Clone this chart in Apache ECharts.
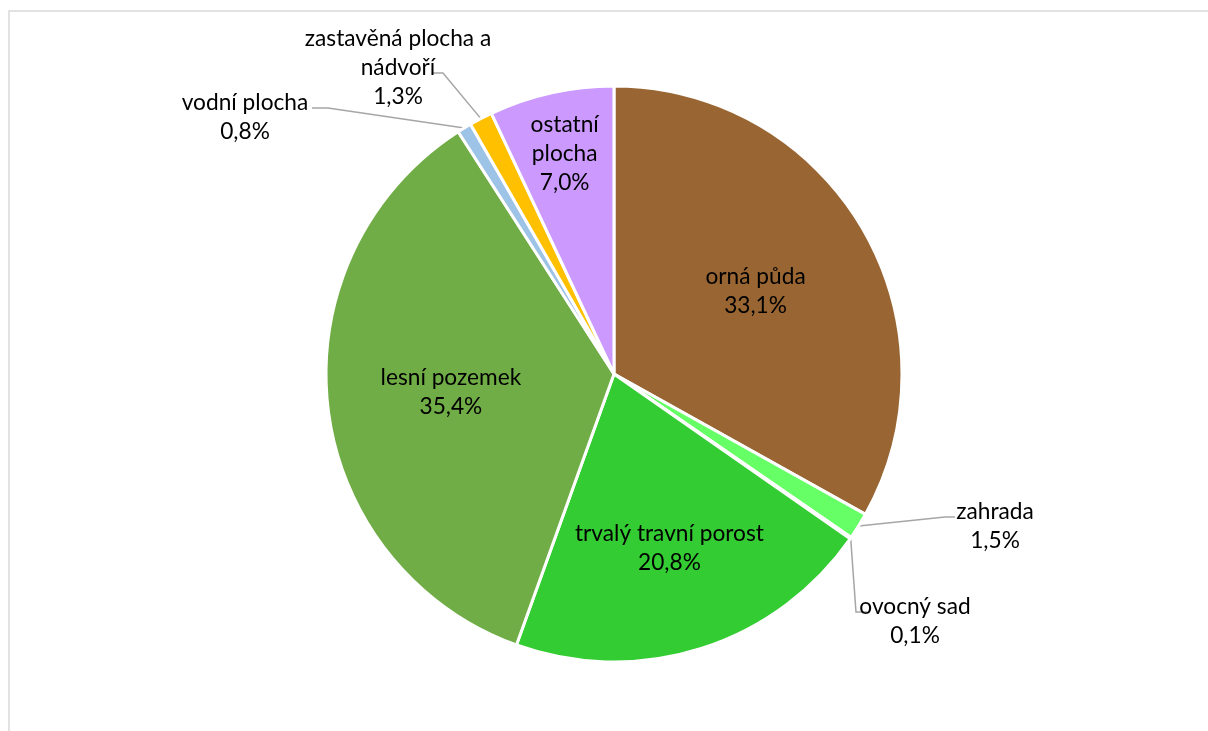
<!DOCTYPE html>
<html><head><meta charset="utf-8">
<script src="https://cdn.jsdelivr.net/npm/echarts@6/dist/echarts.min.js"></script>
<style>html,body{margin:0;padding:0;background:#fff}#c{width:1208px;height:731px}</style>
</head><body><div id="c"></div>
<script>
// ---- data ----
const categories = ['orná půda','zahrada','ovocný sad','trvalý travní porost','lesní pozemek','vodní plocha','zastavěná plocha a nádvoří','ostatní plocha'];
const shares = [33.1, 1.5, 0.1, 20.8, 35.4, 0.8, 1.3, 7.0];
const labelNames = ['orná půda','zahrada','ovocný sad','trvalý travní porost','lesní pozemek','vodní plocha','zastavěná plocha a\nnádvoří','ostatní\nplocha'];
const colors = ['#996633','#66FF66','#339933','#33CC33','#70AD47','#9DC3E6','#FFC000','#CC99FF'];

// ---- layout ----
const CX = 614, CY = 374, R = 288;
const insideFactor = [0.57, null, null, 0.635, 0.57, null, null, 0.785];
const outsideLayout = {
  1: {x: 995, y: 526, bend: [945, 517], end: [955, 517]},
  2: {x: 915, y: 621, bend: [856, 612], end: [867, 612]},
  5: {x: 245, y: 117, bend: [328, 108], end: [312, 108]},
  6: {x: 398, y: 68,  bend: [443, 73],  end: [432, 73]}
};

const total = shares.reduce((a, b) => a + b, 0);
const midAngles = [];
let cum = 0;
shares.forEach(v => { midAngles.push((cum + v / 2) / total * 2 * Math.PI); cum += v; });
function polar(i, f) {
  const a = midAngles[i];
  return [CX + f * R * Math.sin(a), CY - f * R * Math.cos(a)];
}
const fmtPct = v => v.toFixed(1).replace('.', ',') + '%';

const chart = echarts.init(document.getElementById('c'), null, {renderer: 'canvas'});
chart.setOption({
  animation: false,
  backgroundColor: '#fff',
  graphic: [{
    type: 'rect', silent: true,
    shape: {x: 9, y: 11, width: 1400, height: 900},
    style: {fill: 'none', stroke: '#d9d9d9', lineWidth: 1.5}
  }],
  series: [{
    type: 'pie',
    center: [CX, CY],
    radius: R,
    startAngle: 90,
    clockwise: true,
    avoidLabelOverlap: false,
    emphasis: {disabled: true},
    itemStyle: {borderColor: '#fff', borderWidth: 3},
    label: {
      show: true,
      position: 'outside',
      fontFamily: 'Lato',
      fontSize: 22.7,
      lineHeight: 29,
      color: '#000',
      formatter: p => labelNames[p.dataIndex] + '\n' + fmtPct(shares[p.dataIndex])
    },
    labelLine: {show: true, lineStyle: {color: '#a6a6a6', width: 1.5}},
    labelLayout: function (params) {
      const i = params.dataIndex;
      if (insideFactor[i] !== null) {
        const p = polar(i, insideFactor[i]);
        return {x: p[0], y: p[1], align: 'center', verticalAlign: 'middle'};
      }
      const o = outsideLayout[i];
      const s = polar(i, 1.0);
      return {x: o.x, y: o.y, align: 'center', verticalAlign: 'middle',
              labelLinePoints: [s, o.bend, o.end]};
    },
    data: categories.map((n, i) => ({
      name: n, value: shares[i],
      itemStyle: {color: colors[i]},
      labelLine: {show: insideFactor[i] === null}
    }))
  }]
});
</script></body></html>
